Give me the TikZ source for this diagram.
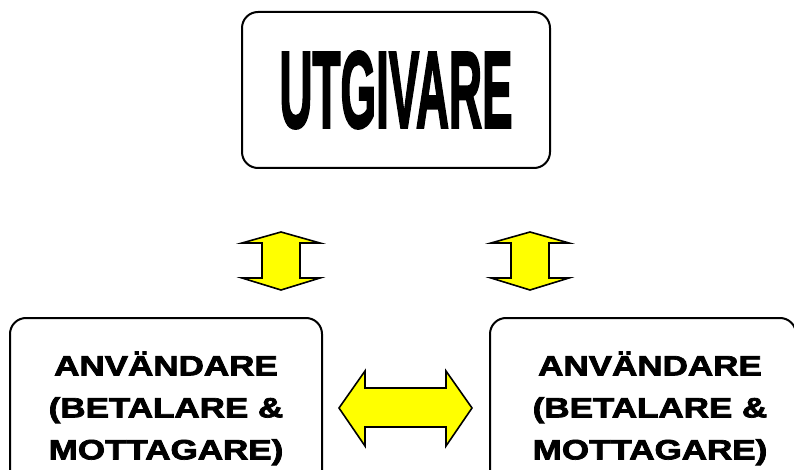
\documentclass[tikz,border=0pt]{standalone}
\usepackage{fontspec}
\usepackage{graphicx}
\setmainfont{Liberation Sans}
\newfontfamily\heavyfont{Liberation Sans Bold}[FakeBold=2.5]
\usetikzlibrary{positioning}
\definecolor{arrowyellow}{RGB}{255,255,0}
\tikzset{%
	box/.style      	= {draw, line width = 2pt, rounded corners = 16pt, inner sep = 0pt, align = center}, % Actor box
	fatarrow/.style 	= {draw, line width = 1.6pt, fill = arrowyellow, line join = miter}, % Block arrow
	vdarrow/.pic    	= {\draw[fatarrow] (0,-29) -- (39,-18) -- (19,-18) -- (19,17) -- (39,17) -- (0,29)
		-- (-39,17) -- (-19,17) -- (-19,-18) -- (-39,-18) -- cycle;},
	hdarrow/.pic    	= {\draw[fatarrow] (-67,0) -- (-41,-37) -- (-41,-20) -- (40,-20) -- (40,-37) -- (66,0)
		-- (40,38) -- (40,19) -- (-41,19) -- (-41,38) -- cycle;}
}
\newcommand{\publisher}{\raisebox{-9pt}{\scalebox{0.42}[1]{\fontsize{109}{109}\heavyfont UTGIVARE}}}
\newcommand{\useract}{\scalebox{1.25}[1]{\fontsize{28}{42}\heavyfont
	\begin{tabular}{@{}c@{}}ANVÄNDARE\\(BETALARE \&\\MOTTAGARE)\end{tabular}}}

\begin{document}
\begin{tikzpicture}[x = 1pt, y = -1pt]
	\clip (0, 0) rectangle (794, 470);
	% Drawing the actors
	\node at (396, 90) [box, minimum width = 308pt, minimum height = 156pt] (utgivare) {\publisher};
	\node at (166, 409) [box, minimum width = 312pt, minimum height = 182pt] (userleft) {\useract};
	\node at (643, 409) [box, minimum width = 306pt, minimum height = 182pt] (userright) {\hspace{14pt}\useract};

	% Drawing the arrows
	\coordinate (upleft) at (281, 261);
	\coordinate (upright) at (530, 261);
	\coordinate (between) at (406, 408);
	\pic at (upleft) {vdarrow};
	\pic at (upright) {vdarrow};
	\pic at (between) {hdarrow};
\end{tikzpicture}
\end{document}
